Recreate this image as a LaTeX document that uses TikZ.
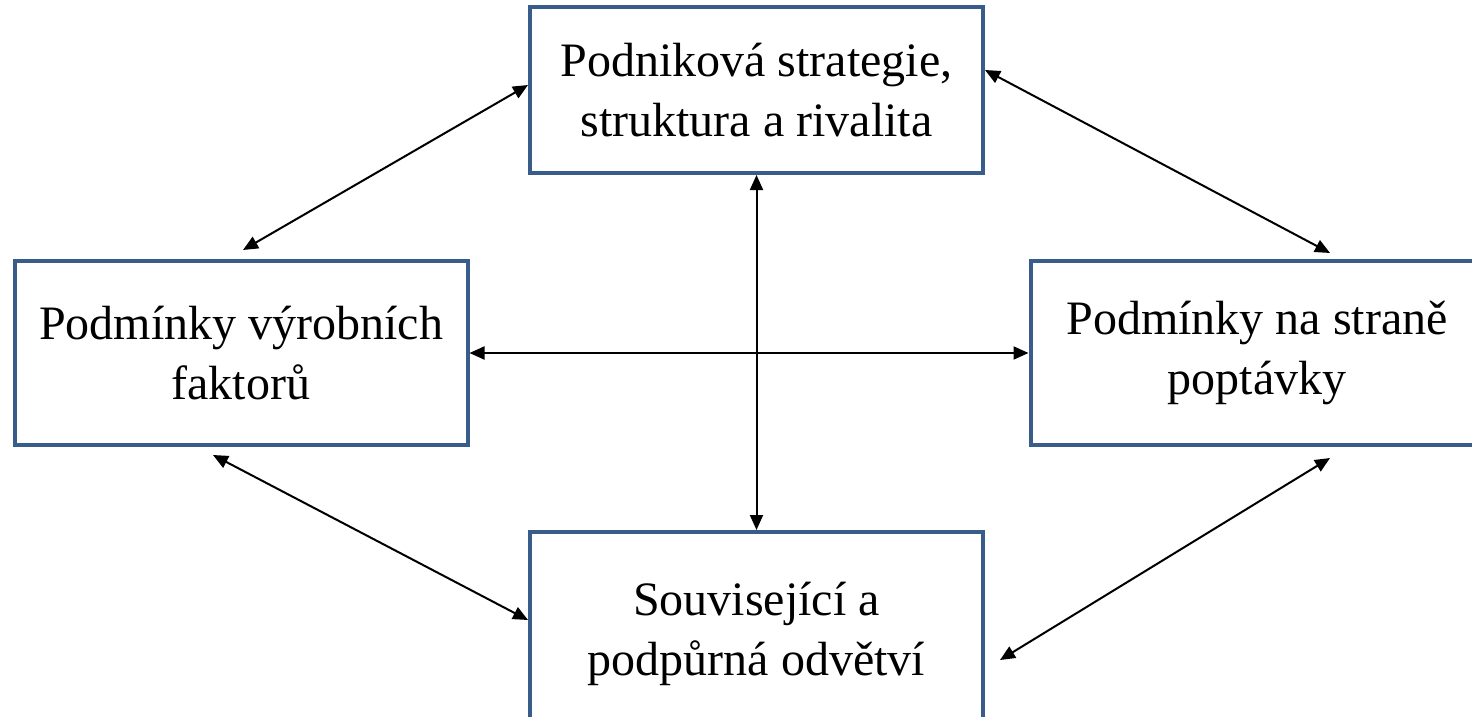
\documentclass[tikz,border=0pt]{standalone}
\usepackage{fontspec}
\setmainfont{Liberation Serif}
\usepackage{xcolor}
\usetikzlibrary{arrows.meta}
\definecolor{boxblue}{HTML}{385D8A}

\begin{document}
\begin{tikzpicture}[x=0.5pt,y=-0.5pt,>={Triangle[length=7.5pt,width=6.5pt]},line width=1pt,main node/.style={rectangle,draw=boxblue,line width=2pt,fill=white,minimum width=226.5pt,minimum height=83pt,align=center,font=\fontsize{24}{30}\selectfont}]
                \useasboundingbox (0,0) rectangle (1472,717);
                \node[main node] (1) at (756.5,90) {Podniková strategie,\\struktura a rivalita};
                \node[main node,minimum height=92pt] (2) at (241,353) {Podmínky výrobních\\faktorů};
                \node[main node,minimum height=92pt] (3) at (1257,353) {Podmínky na straně\\poptávky};
                \node[main node,minimum height=102pt] (4) at (756.5,634) {Související a\\podpůrná odvětví};
    
                \path[<->]
                    ([shift={(0,-5)}]1.west) edge ([shift={(2,-9)}]2.north)
                    ([shift={(0,-20)}]1.east) edge ([shift={(73,-6)}]3.north)
                    ([shift={(-28,8)}]2.south) edge ([shift={(0,-14)}]4.west)
                    ([shift={(73,11)}]3.south) edge ([shift={(15,26)}]4.east)
                    (1.south) edge (4.north)
                    (2.east) edge (3.west)
                    ;
            \end{tikzpicture}
\end{document}
